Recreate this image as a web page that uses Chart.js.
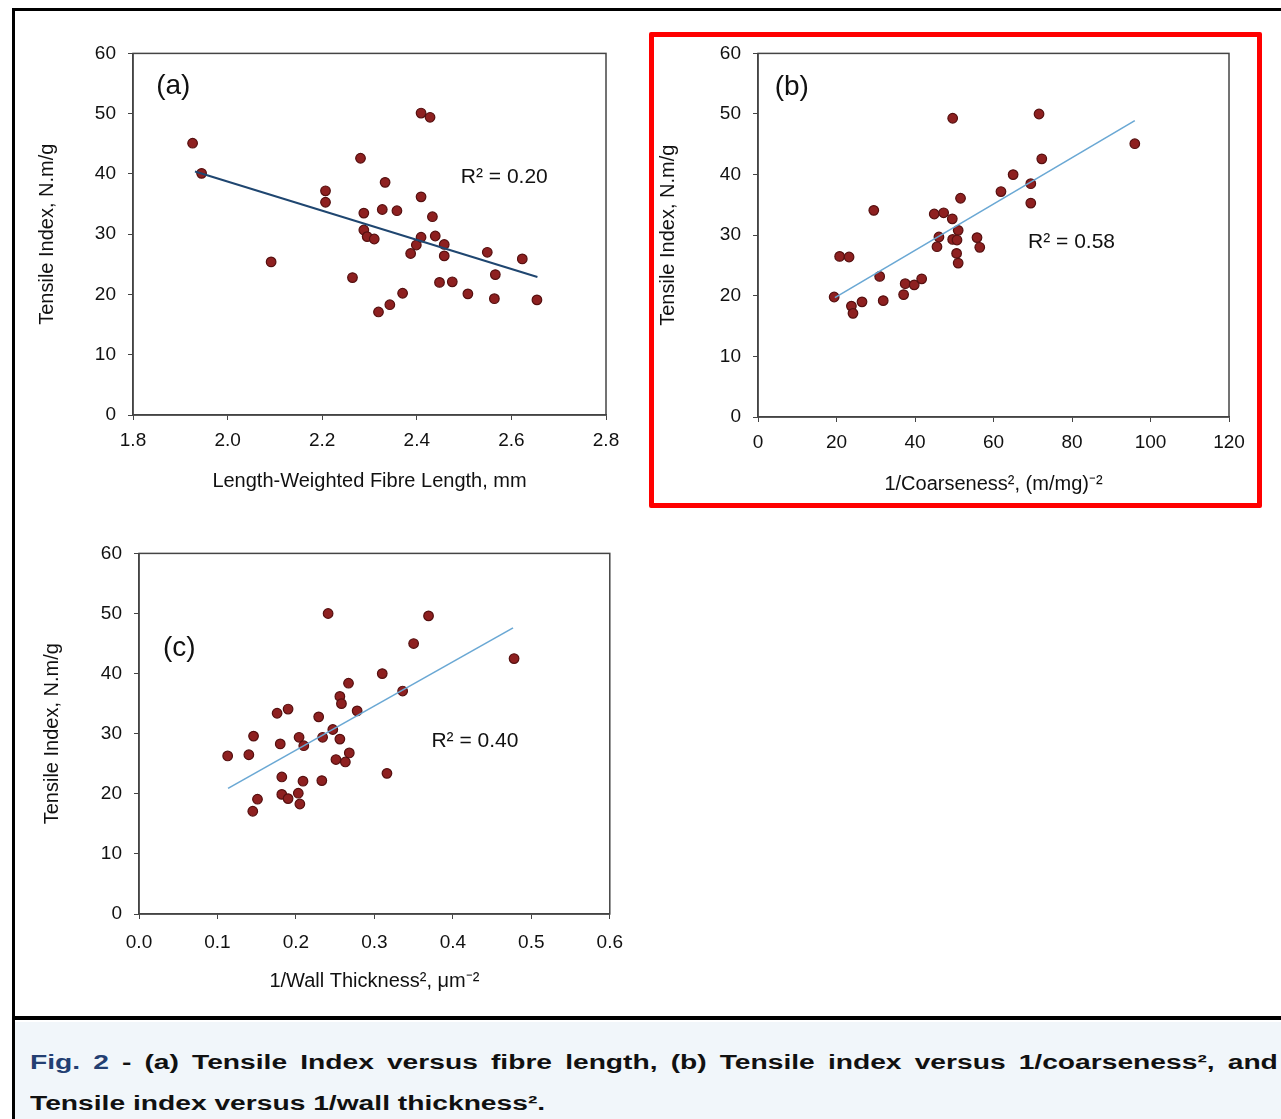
<!DOCTYPE html>
<html>
<head>
<meta charset="utf-8">
<script src="https://cdn.jsdelivr.net/npm/chart.js@4.4.1/dist/chart.umd.min.js"></script>
<style>
  html, body { margin: 0; padding: 0; background: #fff; }
  body { width: 1281px; height: 1119px; position: relative; overflow: hidden; font-family: "Liberation Sans", Arial, sans-serif; }
  .box { position: absolute; }
  .frame-top { position: absolute; left: 12px; top: 8px; width: 1269px; height: 3px; background: #000; }
  .frame-left { position: absolute; left: 12px; top: 8px; width: 3px; height: 1111px; background: #000; }
  .frame-mid { position: absolute; left: 12px; top: 1016px; width: 1269px; height: 4px; background: #000; }
  .capbg { position: absolute; left: 15px; top: 1022px; width: 1266px; height: 97px; background: #f1f6fa; }
  .redbox { position: absolute; left: 649px; top: 32px; width: 603px; height: 466px; border: 5px solid #ff0000; border-radius: 2px; }
  .cap { position: absolute; left: 30px; font-size: 20px; line-height: 22px; font-weight: bold; color: #111;
         transform: scaleX(1.41); transform-origin: 0 0; white-space: nowrap; }
  .cap.first { width: 885px; white-space: normal; text-align: justify; text-align-last: justify; }
  .fig { color: #233f72; }
</style>
</head>
<body>
<div class="frame-top"></div>
<div class="frame-left"></div>
<div class="frame-mid"></div>
<div class="capbg"></div>

<div class="box" style="left:20px;top:30px;width:610px;height:480px"><canvas id="chartA"></canvas></div>
<div class="box" style="left:655px;top:30px;width:600px;height:470px"><canvas id="chartB"></canvas></div>
<div class="box" style="left:20px;top:530px;width:615px;height:470px"><canvas id="chartC"></canvas></div>
<div class="redbox"></div>

<div class="cap first" style="top:1051px"><span class="fig">Fig. 2</span> - (a) Tensile Index versus fibre length, (b) Tensile index versus 1/coarseness², and</div>
<div class="cap" style="top:1092px">Tensile index versus 1/wall thickness².</div>

<script>
// ---- data ----
const fibreLength = [1.926, 1.945, 2.092, 2.207, 2.207, 2.281, 2.264, 2.288, 2.288, 2.295, 2.310, 2.319, 2.333, 2.327, 2.343, 2.358, 2.370, 2.387, 2.399, 2.409, 2.428, 2.409, 2.409, 2.433, 2.439, 2.458, 2.458, 2.448, 2.475, 2.508, 2.549, 2.566, 2.564, 2.623, 2.654];
const tensileA    = [45.1, 40.1, 25.4, 37.2, 35.3, 42.6, 22.8, 33.5, 30.7, 29.6, 29.2, 17.1, 38.6, 34.1, 18.3, 33.9, 20.2, 26.8, 28.2, 50.1, 49.4, 36.2, 29.5, 32.9, 29.7, 28.3, 26.4, 22.0, 22.1, 20.1, 27.0, 23.3, 19.3, 25.9, 19.1];
const trendAx = [1.931, 2.655];
const trendAy = [40.4, 22.9];

const invCoarse = [19.4, 20.8, 23.2, 23.8, 24.2, 26.5, 29.5, 31.0, 31.9, 37.1, 37.5, 39.8, 41.7, 44.9, 47.3, 49.5, 46.1, 45.6, 49.6, 49.6, 51.0, 50.7, 50.6, 51.0, 51.6, 55.8, 56.5, 61.9, 65.0, 69.5, 69.5, 71.6, 72.3, 96.0];
const tensileB  = [19.8, 26.5, 26.4, 18.3, 17.1, 19.0, 34.1, 23.2, 19.2, 20.2, 22.0, 21.8, 22.8, 33.5, 33.7, 32.7, 29.7, 28.1, 49.3, 29.3, 30.8, 29.2, 27.0, 25.4, 36.1, 29.6, 28.0, 37.2, 40.0, 38.5, 35.3, 50.0, 42.6, 45.1];
const trendBx = [19.6, 96.0];
const trendBy = [19.7, 48.9];

const invWall  = [0.113, 0.140, 0.146, 0.145, 0.151, 0.176, 0.190, 0.180, 0.182, 0.182, 0.190, 0.204, 0.210, 0.203, 0.205, 0.209, 0.229, 0.234, 0.233, 0.241, 0.247, 0.256, 0.258, 0.256, 0.251, 0.263, 0.268, 0.267, 0.278, 0.310, 0.316, 0.336, 0.350, 0.369, 0.478];
const tensileC = [26.3, 26.5, 29.6, 17.1, 19.1, 33.4, 34.1, 28.3, 22.8, 19.9, 19.2, 29.4, 28.0, 20.1, 18.3, 22.1, 32.8, 29.4, 22.2, 50.0, 30.7, 36.2, 35.0, 29.1, 25.7, 25.3, 26.8, 38.4, 33.8, 40.0, 23.4, 37.1, 45.0, 49.6, 42.5];
const trendCx = [0.1135, 0.4767];
const trendCy = [20.9, 47.6];

const yTitle = 'Tensile Index, N.m/g';

const toPts = (xs, ys) => xs.map((x, i) => ({x: x, y: ys[i]}));

// plot frame + text notes
const framePlugin = {
    id: 'frame',
    beforeDatasetsDraw(chart) {
        const a = chart.chartArea, ctx = chart.ctx;
        ctx.save();
        ctx.strokeStyle = '#444';
        ctx.lineWidth = 1.5;
        ctx.strokeRect(a.left, a.top, a.right - a.left, a.bottom - a.top);
        ctx.restore();
    },
    afterDraw(chart) {
        const notes = chart.options.plugins.frame.notes || [];
        const ctx = chart.ctx;
        ctx.save();
        ctx.fillStyle = '#111';
        ctx.textAlign = 'left';
        ctx.textBaseline = 'middle';
        notes.forEach(n => {
            ctx.font = n.size + 'px "Liberation Sans", Arial, sans-serif';
            ctx.fillText(n.text, chart.scales.x.getPixelForValue(n.x), chart.scales.y.getPixelForValue(n.y));
        });
        ctx.restore();
    }
};

const makeChart = (id, pts, trend, lineColor, lineWidth, xs, ys, notes) => {
    const ctx = document.getElementById(id).getContext('2d');
    return new Chart(ctx, {
        type: 'scatter',
        data: {
            datasets: [
                {
                    data: trend,
                    showLine: true,
                    borderColor: lineColor,
                    borderWidth: lineWidth,
                    pointRadius: 0,
                    fill: false
                },
                {
                    data: pts,
                    pointRadius: 4.8,
                    pointBackgroundColor: '#8e2020',
                    pointBorderColor: '#561010',
                    pointBorderWidth: 1.2
                }
            ]
        },
        options: {
            responsive: true,
            maintainAspectRatio: false,
            animation: false,
            devicePixelRatio: 1,
            layout: { padding: { left: 0, right: xs.padRight, top: ys.padTop, bottom: 0 } },
            plugins: {
                legend: { display: false },
                tooltip: { enabled: false },
                frame: { notes: notes }
            },
            scales: {
                x: {
                    type: 'linear',
                    min: xs.min, max: xs.max,
                    afterFit: (axis) => { axis.height = xs.height; },
                    grid: { drawOnChartArea: false, drawTicks: true, tickLength: 5, color: '#444' },
                    border: { color: '#444', width: 1.5 },
                    ticks: {
                        stepSize: xs.step,
                        autoSkip: false,
                        maxRotation: 0,
                        padding: xs.tickPad,
                        color: '#111',
                        font: { family: '"Liberation Sans", Arial, sans-serif', size: 19 },
                        callback: (v) => v.toFixed(xs.dec)
                    },
                    title: {
                        display: true,
                        text: xs.title,
                        color: '#111',
                        font: { family: '"Liberation Sans", Arial, sans-serif', size: 20 },
                        padding: { top: 0, bottom: xs.titlePad }
                    }
                },
                y: {
                    type: 'linear',
                    min: 0, max: 60,
                    afterFit: (axis) => { axis.width = ys.width; },
                    grid: { drawOnChartArea: false, drawTicks: true, tickLength: 5, color: '#444' },
                    border: { color: '#444', width: 1.5 },
                    ticks: {
                        stepSize: 10,
                        padding: 12,
                        color: '#111',
                        font: { family: '"Liberation Sans", Arial, sans-serif', size: 19 }
                    },
                    title: {
                        display: true,
                        text: yTitle,
                        color: '#111',
                        font: { family: '"Liberation Sans", Arial, sans-serif', size: 20 },
                        padding: { top: ys.titlePad, bottom: 0 }
                    }
                }
            }
        },
        plugins: [framePlugin]
    });
};

makeChart('chartA', toPts(fibreLength, tensileA), toPts(trendAx, trendAy), '#1f4670', 2,
    { min: 1.8, max: 2.8, step: 0.2, dec: 1, height: 95, padRight: 24, titlePad: 17, tickPad: 9, title: 'Length-Weighted Fibre Length, mm' },
    { width: 113, padTop: 22.8, titlePad: 15 },
    [ { text: '(a)', x: 1.849, y: 54.5, size: 28 }, { text: 'R² = 0.20', x: 2.493, y: 39.5, size: 21 } ]);

makeChart('chartB', toPts(invCoarse, tensileB), toPts(trendBx, trendBy), '#6aa8d4', 1.6,
    { min: 0, max: 120, step: 20, dec: 0, height: 83, padRight: 26, titlePad: 4, tickPad: 9, title: '1/Coarseness², (m/mg)⁻²' },
    { width: 103, padTop: 22.8, titlePad: 1 },
    [ { text: '(b)', x: 4.26, y: 54.4, size: 28 }, { text: 'R² = 0.58', x: 68.8, y: 28.8, size: 21 } ]);

makeChart('chartC', toPts(invWall, tensileC), toPts(trendCx, trendCy), '#6aa8d4', 1.6,
    { min: 0, max: 0.6, step: 0.1, dec: 1, height: 86, padRight: 25, titlePad: 7, tickPad: 12, title: '1/Wall Thickness², μm⁻²' },
    { width: 119, padTop: 23.3, titlePad: 20 },
    [ { text: '(c)', x: 0.0306, y: 44.2, size: 28 }, { text: 'R² = 0.40', x: 0.3727, y: 28.7, size: 21 } ]);
</script>
</body>
</html>
